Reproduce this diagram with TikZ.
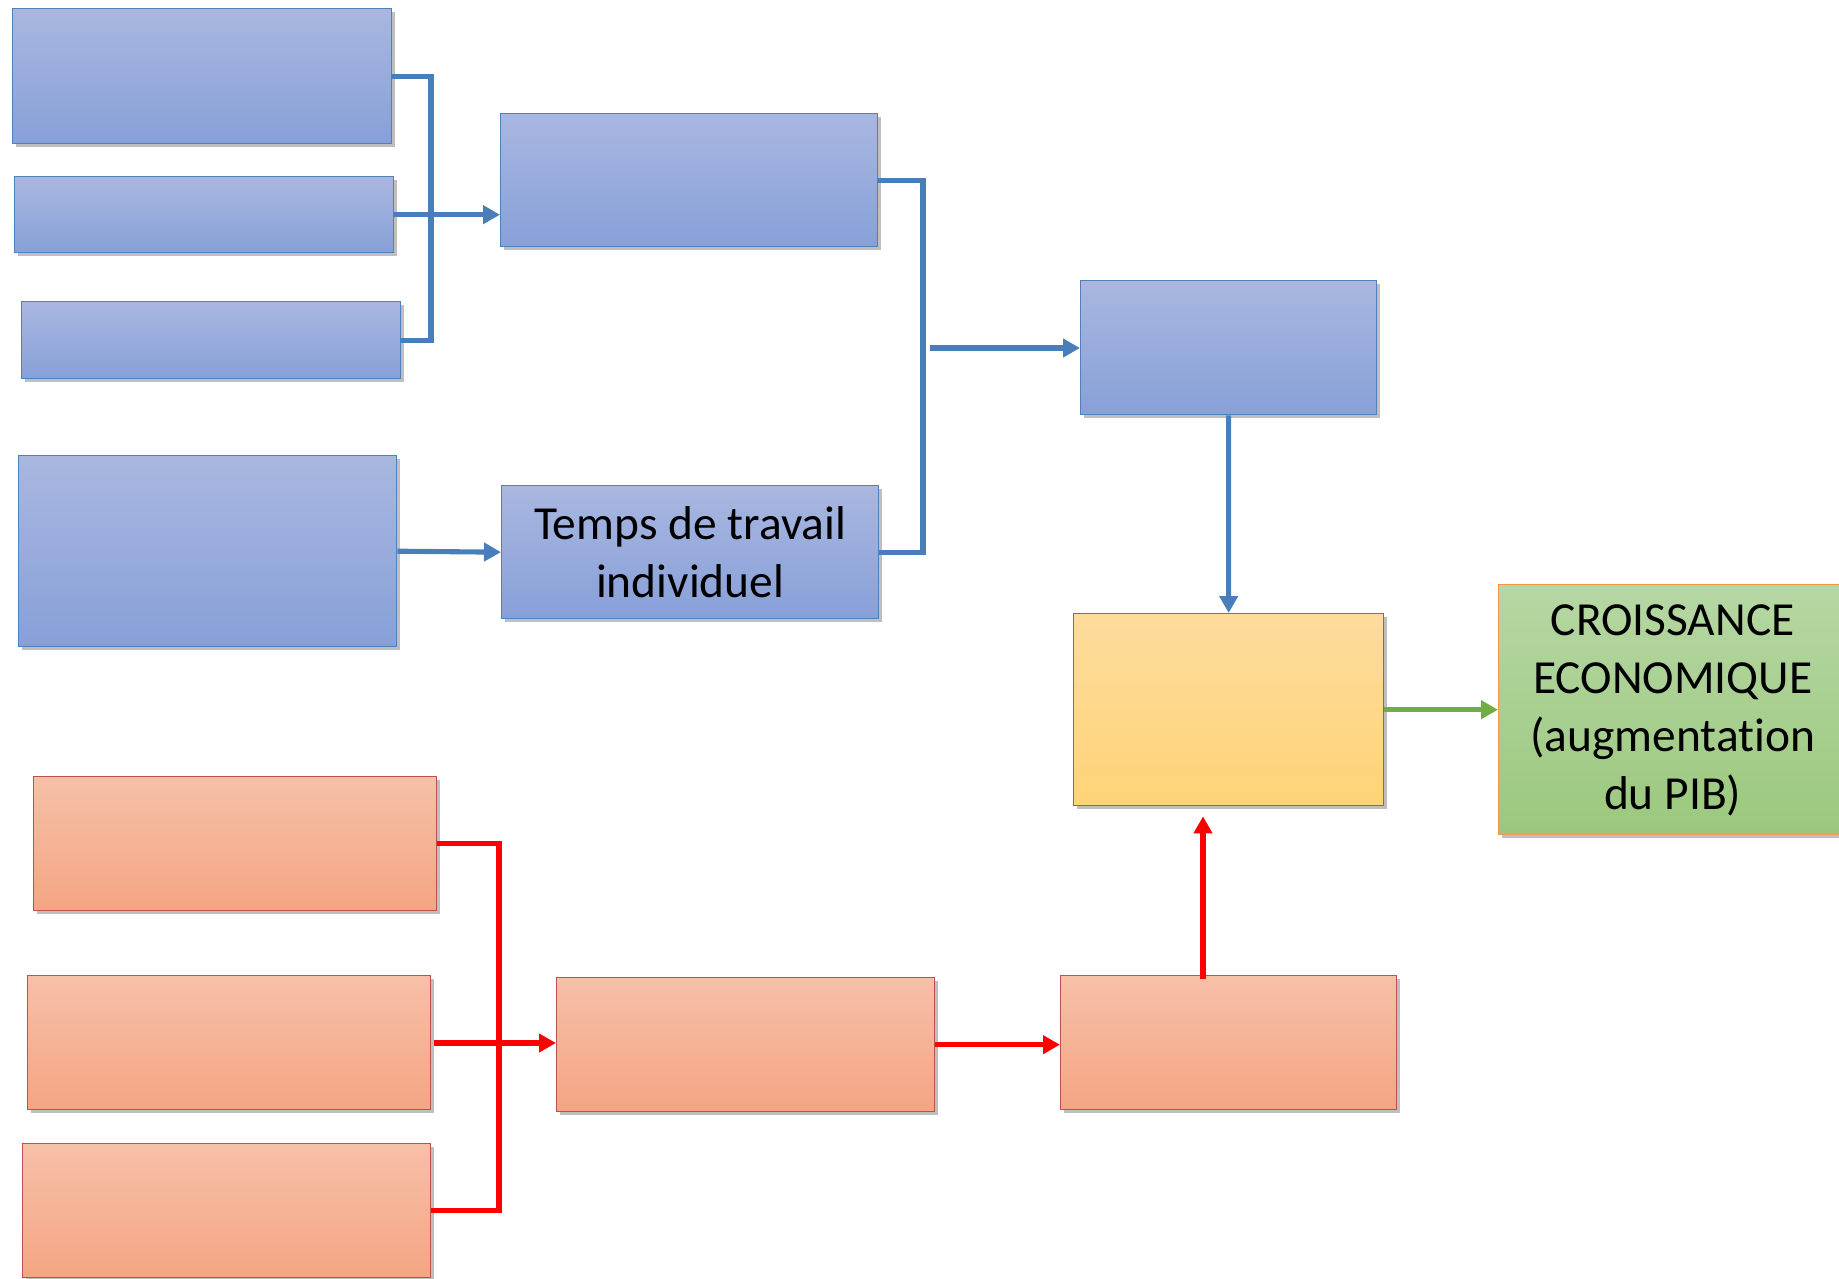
\documentclass[tikz,border=0pt]{standalone}
\usepackage{fontspec}
\setmainfont{Carlito}[Ligatures=NoCommon]
\usetikzlibrary{arrows.meta, positioning, shadows}
\definecolor{blueTop}{RGB}{169,183,224}
\definecolor{blueBot}{RGB}{135,160,216}
\definecolor{blueEdge}{RGB}{79,129,189}
\definecolor{blueLine}{RGB}{74,126,187}
\definecolor{redTop}{RGB}{246,192,168}
\definecolor{redBot}{RGB}{244,165,130}
\definecolor{redEdge}{RGB}{192,80,77}
\definecolor{redLine}{RGB}{255,0,0}
\definecolor{yelTop}{RGB}{254,219,156}
\definecolor{yelBot}{RGB}{254,212,120}
\definecolor{yelEdge}{RGB}{128,100,162}
\definecolor{grnTop}{RGB}{182,215,164}
\definecolor{grnBot}{RGB}{155,200,125}
\definecolor{grnEdge}{RGB}{247,150,70}
\definecolor{grnLine}{RGB}{112,173,71}

\begin{document}
\begin{tikzpicture}[
    x=0.02cm, y=-0.02cm,
    box/.style={rectangle, anchor=north west, inner sep=0pt, line width=0.8pt, align=center,
        font=\fontsize{27}{33}\selectfont,
        drop shadow={shadow xshift=0.07cm, shadow yshift=-0.07cm, opacity=0.25, fill=black}},
    bluebox/.style={box, draw=blueEdge, top color=blueTop, bottom color=blueBot},
    redbox/.style={box, draw=redEdge, top color=redTop, bottom color=redBot},
    yelbox/.style={box, draw=yelEdge, top color=yelTop, bottom color=yelBot},
    grnbox/.style={box, draw=grnEdge, top color=grnTop, bottom color=grnBot},
    blueline/.style={draw=blueLine, line width=2.9pt},
    bluearrow/.style={blueline, -{Triangle[length=0.34cm, width=0.36cm]}},
    redline/.style={draw=redLine, line width=2.9pt},
    redarrow/.style={redline, -{Triangle[length=0.34cm, width=0.36cm]}},
    grnarrow/.style={draw=grnLine, line width=2.9pt, -{Triangle[length=0.34cm, width=0.36cm]}}
]
\clip (0,0) rectangle (1839,1278);

% Blue side
\node[bluebox, minimum width=7.58cm, minimum height=2.70cm] (b1) at (12,8) {};
\node[bluebox, minimum width=7.58cm, minimum height=1.52cm] (b2) at (14,176) {};
\node[bluebox, minimum width=7.58cm, minimum height=1.54cm] (b3) at (21,301) {};
\node[bluebox, minimum width=7.56cm, minimum height=3.82cm] (b4) at (18,455) {};
\node[bluebox, minimum width=7.54cm, minimum height=2.66cm] (m1) at (500,113) {};
\node[bluebox, minimum width=7.54cm, minimum height=2.66cm] (temps) at (501,485) {Temps de travail\\individuel};
\node[bluebox, minimum width=5.92cm, minimum height=2.68cm] (r1) at (1080,280) {};

% Centre and result
\node[yelbox, minimum width=6.20cm, minimum height=3.84cm] (yel) at (1073,613) {};
\node[grnbox, minimum width=6.96cm, minimum height=5.00cm, text depth=0.1cm] (pib) at (1498,584)
    {CROISSANCE\\ECONOMIQUE\\(augmentation\\du PIB)};

% Red side
\node[redbox, minimum width=8.06cm, minimum height=2.68cm] (p1) at (33,776) {};
\node[redbox, minimum width=8.06cm, minimum height=2.68cm] (p2) at (27,975) {};
\node[redbox, minimum width=8.16cm, minimum height=2.68cm] (p3) at (22,1143) {};
\node[redbox, minimum width=7.56cm, minimum height=2.68cm] (q1) at (556,977) {};
\node[redbox, minimum width=6.72cm, minimum height=2.68cm] (q2) at (1060,975) {};

% Joints
\coordinate (bluejoin) at (431,214);
\coordinate (midjoin) at (923,348);
\coordinate (midstart) at (930,348);
\coordinate (redjoin) at (499,1043);
\coordinate (redstart) at (434,1043);
\coordinate (upstart) at (1203,979);

% Arrows
\draw[blueline] (b1.east) -| (bluejoin) |- (b3.east);
\draw[bluearrow] (b2.east) -- (b2.east -| m1.west);
\draw[bluearrow] (b4.east) -- (temps.west);
\draw[blueline] (m1.east) -| (midjoin) |- (temps.east);
\draw[bluearrow] (midstart) -- (midstart -| r1.west);
\draw[bluearrow] (r1.south) -- (yel.north);
\draw[grnarrow] (yel.east) -- (yel.east -| pib.west);
\draw[redline] (p1.east) -| (redjoin) |- (p3.east);
\draw[redarrow] (redstart) -- (redstart -| q1.west);
\draw[redarrow] (q1.east) -- (q1.east -| q2.west);
\draw[redarrow, shorten >=0.2cm] (upstart) -- (upstart |- yel.south);

\end{tikzpicture}
\end{document}
